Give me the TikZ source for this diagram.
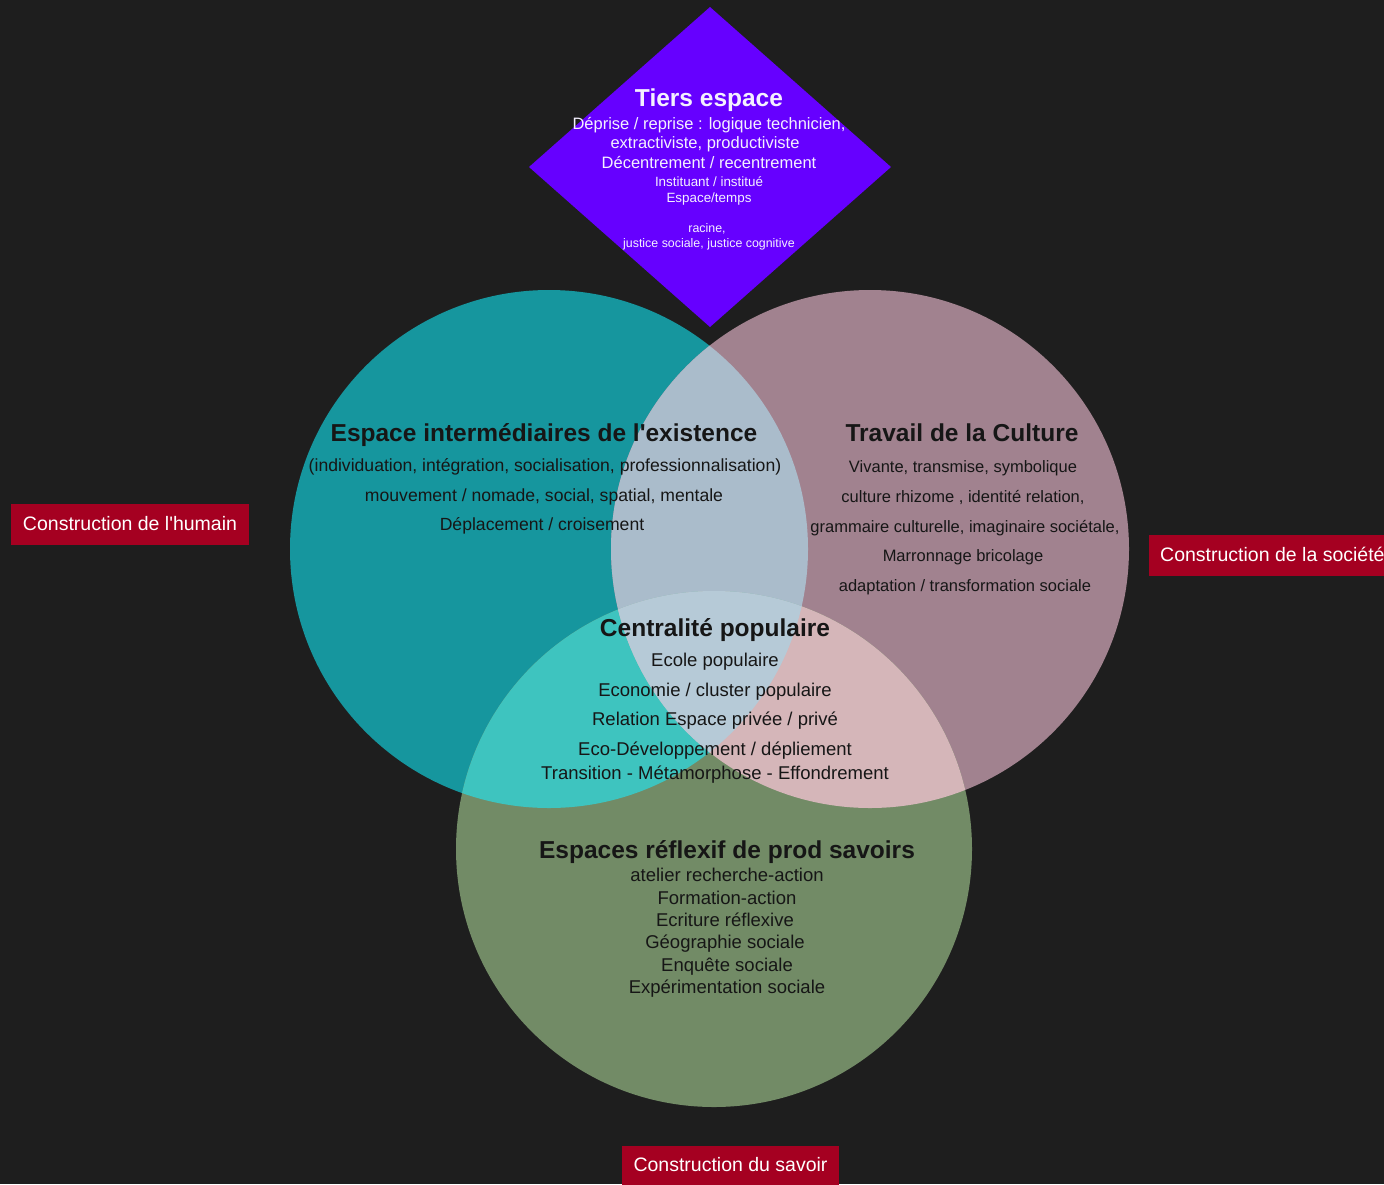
\documentclass[tikz,border=0pt]{standalone}
\usepackage{fontspec}
\setmainfont{Liberation Sans}[Ligatures=TeXOff]
\definecolor{bgc}{RGB}{30,30,30}
\definecolor{tealc}{RGB}{22,150,158}
\definecolor{pinkc}{RGB}{161,130,143}
\definecolor{greenc}{RGB}{114,139,102}
\definecolor{tpc}{RGB}{170,188,203}
\definecolor{tgc}{RGB}{62,196,191}
\definecolor{pgc}{RGB}{213,182,185}
\definecolor{allc}{RGB}{182,202,215}
\definecolor{violetc}{RGB}{102,0,255}
\definecolor{redc}{RGB}{165,0,33}
\definecolor{ink}{RGB}{22,22,22}
\definecolor{lightink}{RGB}{244,240,255}
\tikzset{
  ttl/.style={anchor=base,inner sep=0pt,text=ink,font=\fontsize{24.5pt}{28pt}\selectfont\bfseries},
  wttl/.style={ttl,text=lightink},
  body/.style={anchor=base,inner sep=0pt,text=ink,font=\fontsize{#1}{20pt}\selectfont},
  wbody/.style={body=#1,text=lightink},
  lbl/.style={anchor=base,inner sep=0pt,text=white,font=\fontsize{19.5pt}{22pt}\selectfont},
}
\begin{document}
\begin{tikzpicture}[x=1pt,y=-1pt]
\fill[bgc] (0,0) rectangle (1384,1184);
\useasboundingbox (0,0) rectangle (1384,1184);
\coordinate (cL) at (549,549);
\coordinate (cR) at (870,549);
\coordinate (cB) at (714,849);
% circles
\fill[tealc] (cL) circle[radius=259pt];
\fill[pinkc] (cR) circle[radius=259pt];
\fill[greenc] (cB) circle[radius=258pt];
\begin{scope}
  \clip (cL) circle[radius=259pt];
  \fill[tpc] (cR) circle[radius=259pt];
  \fill[tgc] (cB) circle[radius=258pt];
\end{scope}
\begin{scope}
  \clip (cR) circle[radius=259pt];
  \fill[pgc] (cB) circle[radius=258pt];
\end{scope}
\begin{scope}
  \clip (cL) circle[radius=259pt];
  \clip (cR) circle[radius=259pt];
  \fill[allc] (cB) circle[radius=258pt];
\end{scope}
% diamond
\coordinate (dT) at (710,7);
\coordinate (dR) at (891,167);
\coordinate (dB) at (710,327);
\coordinate (dL) at (529,167);
\fill[violetc] (dT) -- (dR) -- (dB) -- (dL) -- cycle;
% diamond text
\node[wttl] (t0) at (709,106) {Tiers espace};
\node[wbody=16.5pt] (t1) at (709,129) {Déprise / reprise : logique technicien,};
\node[wbody=16.5pt] (t2) at (705,148) {extractiviste, productiviste};
\node[wbody=16.5pt] (t3) at (709,168) {Décentrement / recentrement};
\node[wbody=13.4pt] (t4) at (709,186) {Instituant / institué};
\node[wbody=13.4pt] (t5) at (709,202) {Espace/temps};
\node[wbody=12.4pt] (t6) at (707,232) {racine,};
\node[wbody=12.4pt] (t7) at (709,247) {justice sociale, justice cognitive};
% left circle text
\node[ttl] (l0) at (544,441) {Espace intermédiaires de l'existence};
\node[body=17.6pt] (l1) at (545,471) {(individuation, intégration, socialisation, professionnalisation)};
\node[body=17.6pt] (l2) at (544,501) {mouvement / nomade, social, spatial, mentale};
\node[body=17.6pt] (l3) at (542,530) {Déplacement / croisement};
% right circle text
\node[ttl] (r0) at (962,441) {Travail de la Culture};
\node[body=16.5pt] (r1) at (963,472) {Vivante, transmise, symbolique};
\node[body=16.5pt] (r2) at (963,502) {culture rhizome , identité relation,};
\node[body=16.5pt] (r3) at (965,532) {grammaire culturelle, imaginaire sociétale,};
\node[body=16.5pt] (r4) at (963,561) {Marronnage bricolage};
\node[body=16.5pt] (r5) at (965,591) {adaptation / transformation sociale};
% center text
\node[ttl] (c0) at (715,636) {Centralité populaire};
\node[body=18.5pt] (c1) at (715,666) {Ecole populaire};
\node[body=18.5pt] (c2) at (715,696) {Economie / cluster populaire};
\node[body=18.5pt] (c3) at (715,725) {Relation Espace privée / privé};
\node[body=18.5pt] (c4) at (715,755) {Eco-Développement / dépliement};
\node[body=18.5pt] (c5) at (715,779) {Transition - Métamorphose - Effondrement};
% bottom circle text
\node[ttl] (b0) at (727,858) {Espaces réflexif de prod savoirs};
\node[body=18.5pt] (b1) at (727,881) {atelier recherche-action};
\node[body=18.5pt] (b2) at (727,904) {Formation-action};
\node[body=18.5pt] (b3) at (725,926) {Ecriture réflexive};
\node[body=18.5pt] (b4) at (725,948) {Géographie sociale};
\node[body=18.5pt] (b5) at (727,971) {Enquête sociale};
\node[body=18.5pt] (b6) at (727,993) {Expérimentation sociale};
% labels
\fill[redc] (11,504) rectangle (249,545);
\node[lbl] (hum) at (130,530) {Construction de l'humain};
\fill[redc] (1149,535) rectangle (1400,576);
\node[lbl,anchor=base west] (soc) at (1160,561) {Construction de la société};
\fill[redc] (622,1146) rectangle (839,1190);
\node[lbl] (sav) at (730.5,1171) {Construction du savoir};
\end{tikzpicture}
\end{document}
